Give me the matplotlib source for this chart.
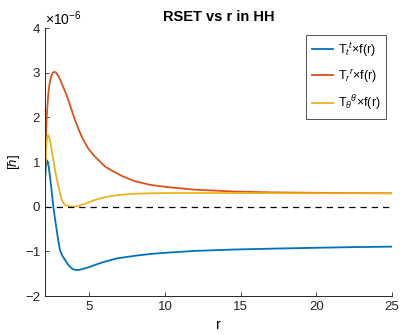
import numpy as np
import matplotlib.pyplot as plt

plt.rcParams['font.family'] = ['Liberation Sans', 'DejaVu Sans']
plt.rcParams['mathtext.fontset'] = 'custom'
plt.rcParams['mathtext.rm'] = 'Liberation Sans'
plt.rcParams['mathtext.it'] = 'Liberation Sans:italic'

# values, in units of 1e-6
r_tt = [2.07, 2.12, 2.18, 2.25, 2.32, 2.4, 2.5, 2.62, 2.73, 2.84, 2.95, 3.06, 3.2, 3.39, 3.6, 3.83, 4.0,
        4.16, 4.4, 4.6, 4.93, 5.4, 6.03, 6.8, 8.0, 9.0, 10.1, 12.0, 14.5, 17.0, 20.0, 22.5, 25.0]
tt = [0.56, 0.85, 1.04, 1.0, 0.88, 0.67, 0.38, 0.0, -0.27, -0.52, -0.77, -0.97, -1.09, -1.19, -1.3, -1.38, -1.41,
      -1.42, -1.41, -1.39, -1.36, -1.3, -1.23, -1.16, -1.1, -1.06, -1.03, -0.99, -0.96, -0.94, -0.92, -0.905, -0.895]

r_rr = [2.07, 2.12, 2.18, 2.29, 2.4, 2.52, 2.6, 2.69, 2.8, 3.0, 3.17, 3.4, 3.61, 3.83, 4.05, 4.27, 4.49,
        4.71, 4.93, 5.37, 6.03, 6.47, 7.2, 8.0, 9.0, 10.1, 12.0, 14.5, 17.0, 20.0, 22.5, 25.0]
rr = [0.6, 1.4, 2.01, 2.54, 2.82, 2.96, 3.0, 3.02, 3.0, 2.9, 2.76, 2.58, 2.39, 2.16, 1.94, 1.75, 1.57,
      1.43, 1.3, 1.12, 0.9, 0.81, 0.68, 0.57, 0.49, 0.44, 0.38, 0.34, 0.32, 0.31, 0.305, 0.3]

r_th = [2.07, 2.13, 2.19, 2.24, 2.29, 2.35, 2.42, 2.51, 2.62, 2.73, 2.84, 2.95, 3.06, 3.17, 3.28, 3.45,
        3.65, 3.94, 4.2, 4.49, 4.9, 5.37, 5.9, 6.47, 7.2, 8.0, 9.0, 10.1, 12.0, 15.0, 20.0, 25.0]
th = [0.6, 1.2, 1.5, 1.59, 1.6, 1.55, 1.45, 1.27, 1.04, 0.82, 0.63, 0.46, 0.3, 0.17, 0.08, 0.03,
      0.01, 0.0, 0.01, 0.04, 0.09, 0.15, 0.2, 0.24, 0.27, 0.29, 0.3, 0.305, 0.305, 0.305, 0.3, 0.3]

labels = [r'T$_{t}$$^{t}$$\times$f(r)', r'T$_{r}$$^{r}$$\times$f(r)', r'T$_{\theta}$$^{\theta}$$\times$f(r)']
colors = ['#0072BD', '#D95319', '#EDB120']

fig = plt.figure(figsize=(4.03, 3.35), dpi=100)
ax = fig.add_axes([0.1117, 0.1164, 0.861, 0.8])

ax.plot(r_tt, tt, color=colors[0], lw=1.3, label=labels[0])
ax.plot(r_rr, rr, color=colors[1], lw=1.3, label=labels[1])
ax.plot(r_th, th, color=colors[2], lw=1.3, label=labels[2])
ax.axhline(0, color='k', ls=(0, (5, 4)), lw=0.9)

ax.set_xlim(2.07, 25)
ax.set_ylim(-2, 4)
ax.set_xticks([5, 10, 15, 20, 25])
ax.set_yticks([-2, -1, 0, 1, 2, 3, 4])
ax.tick_params(direction='in', labelsize=9.5, length=3, width=0.6, colors='#262626')
for s in ['top', 'right']:
    ax.spines[s].set_visible(False)
for s in ['left', 'bottom']:
    ax.spines[s].set_color('#262626')
    ax.spines[s].set_linewidth(0.7)

ax.text(0.0, 1.0, r'$\times$10$^{-6}$', transform=ax.transAxes, fontsize=10, va='bottom', ha='left')
ax.set_title('RSET vs r in HH', fontsize=10.5, fontweight='bold', pad=5)
ax.set_xlabel('r', fontsize=10.5, labelpad=4)
ax.set_ylabel(r'[$\hbar$]', fontsize=9.5, labelpad=2)

leg = ax.legend(loc='upper right', bbox_to_anchor=(0.982, 0.975), fontsize=9, frameon=True,
                fancybox=False, edgecolor='#262626', handlelength=1.7, handletextpad=0.35,
                borderpad=0.45, labelspacing=0.7, borderaxespad=0.0)
leg.get_frame().set_linewidth(0.7)

fig.savefig('out.png', dpi=100)
